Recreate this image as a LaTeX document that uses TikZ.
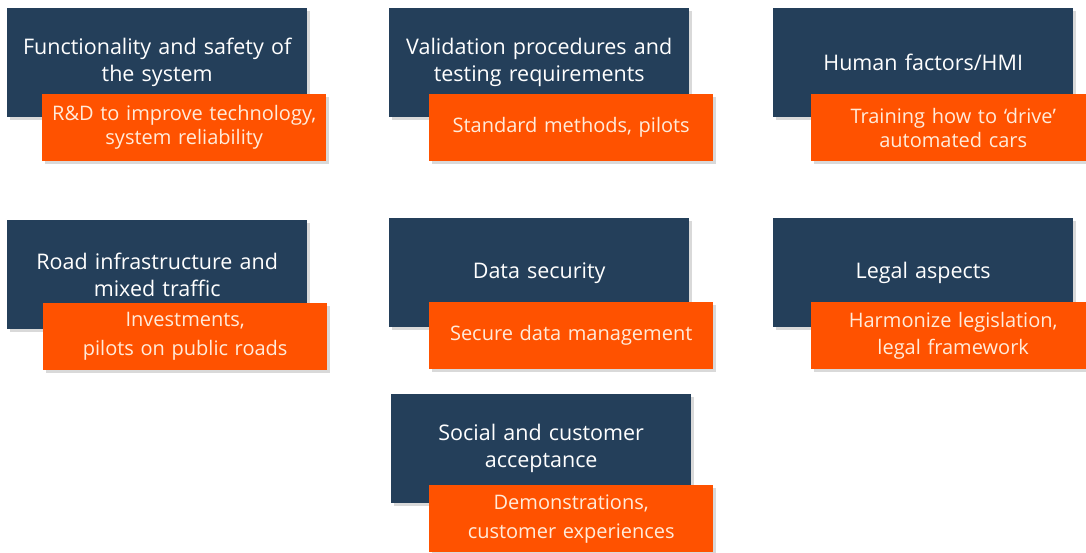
\documentclass[tikz,border=0pt]{standalone}
\usepackage{fontspec}
\setmainfont{Open Sans}
\usetikzlibrary{positioning,shadows}
\definecolor{navy}{HTML}{243F5A}
\definecolor{tangerine}{HTML}{FF5200}
\definecolor{cream}{HTML}{FFEBDA}

\tikzset{
  boxshadow/.style={drop shadow={shadow xshift=2.5pt, shadow yshift=-2.5pt, opacity=0.3}},
  topic/.style={boxshadow, fill=navy, text=white, anchor=north west, inner sep=0pt,
    minimum width=300pt, minimum height=109pt, text width=296pt, align=center,
    font=\fontsize{21.5}{27}\selectfont},
  action/.style={boxshadow, fill=tangerine, text=cream, anchor=north west, inner sep=0pt,
    minimum width=284pt, minimum height=67pt, text width=280pt, align=center,
    font=\fontsize{20}{24}\selectfont}
}

\begin{document}
\begin{tikzpicture}[x=1pt,y=-1pt]
  \useasboundingbox (0,0) rectangle (1086,552);
  % first row
  \node[topic] (func) at (7,8) {Functionality and safety of\\the system};
  \node[action] (rnd) at ([shift={(35,86)}]func.north west) {R\&D to improve technology,\\system reliability};
  \node[topic] (valid) at (389,8) {Validation procedures and\\testing requirements};
  \node[action] (std) at ([shift={(40,86)}]valid.north west) {Standard methods, pilots};
  \node[topic] (human) at (773,8) {Human factors/HMI};
  \node[action] (train) at ([shift={(38,86)}]human.north west) {Training how to ‘drive’\\automated cars};
  % second row
  \node[topic] (road) at (7,220) {Road infrastructure and\\mixed traffic};
  \node[action] (invest) at ([shift={(36,83)}]road.north west) {Investments,\\[5pt]pilots on public roads};
  \node[topic] (data) at (389,218) {Data security};
  \node[action] (secure) at ([shift={(40,84)}]data.north west) {Secure data management};
  \node[topic] (legal) at (773,218) {Legal aspects};
  \node[action] (harm) at ([shift={(38,84)}]legal.north west) {Harmonize legislation,\\[3pt]legal framework};
  % third row
  \node[topic] (social) at (391,394) {Social and customer\\acceptance};
  \node[action] (demo) at ([shift={(38,91)}]social.north west) {Demonstrations,\\[5pt]customer experiences};
\end{tikzpicture}
\end{document}
